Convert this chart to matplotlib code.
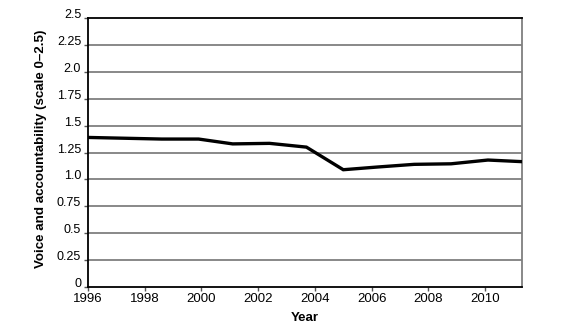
import matplotlib
matplotlib.use('Agg')
import matplotlib.pyplot as plt
from matplotlib.transforms import ScaledTranslation

plt.rcParams['font.family'] = ['Liberation Sans', 'DejaVu Sans']

# Voice and accountability estimates by year
years = [1996, 1998.6, 1999.9, 2001.1, 2002.4, 2003.7, 2005.0,
         2006.2, 2007.5, 2008.8, 2010.1, 2011.3]
scores = [1.39, 1.375, 1.375, 1.33, 1.335, 1.30, 1.09,
          1.115, 1.14, 1.145, 1.18, 1.165]

y_ticks = [0, 0.25, 0.5, 0.75, 1.0, 1.25, 1.5, 1.75, 2.0, 2.25, 2.5]
y_tick_labels = ['0', '0.25', '0.5', '0.75', '1.0', '1.25', '1.5',
                 '1.75', '2.0', '2.25', '2.5']
x_ticks = [1996, 1998, 2000, 2002, 2004, 2006, 2008, 2010]

fig = plt.figure(figsize=(5.62, 3.34), dpi=100)
ax = fig.add_axes([0.1566, 0.1407, 0.7722, 0.8054])

for y in y_ticks[1:-1]:
    ax.axhline(y, color='#7f7f7f', lw=1.3, zorder=1)

ax.plot(years, scores, color='black', lw=2.4, solid_joinstyle='miter', zorder=3)

ax.set_xlim(1996, 2011.3)
ax.set_ylim(0, 2.5)
ax.set_yticks(y_ticks)
ax.set_yticklabels(y_tick_labels)
ax.set_xticks(x_ticks)
ax.tick_params(axis='y', labelsize=9, length=3, width=1, color='#555555', pad=2)
ax.tick_params(axis='x', labelsize=9.5, length=3, width=1, color='#555555', pad=1)

# y labels sit a little above their gridlines
lift = ScaledTranslation(0, 0.045, fig.dpi_scale_trans)
for lbl in ax.get_yticklabels():
    lbl.set_transform(lbl.get_transform() + lift)

ax.spines['left'].set_color('black')
ax.spines['bottom'].set_color('black')
ax.spines['top'].set_color('black')
ax.spines['right'].set_color('#7f7f7f')
for s in ax.spines.values():
    s.set_linewidth(1.3)

ax.set_xlabel('Year', fontsize=9.5, fontweight='bold', labelpad=5)
ax.set_ylabel('Voice and accountability (scale 0\u20132.5)', fontsize=9.6,
              fontweight='bold')
ax.yaxis.set_label_coords(-0.094, 0.515)

fig.savefig('out.png', dpi=100)
